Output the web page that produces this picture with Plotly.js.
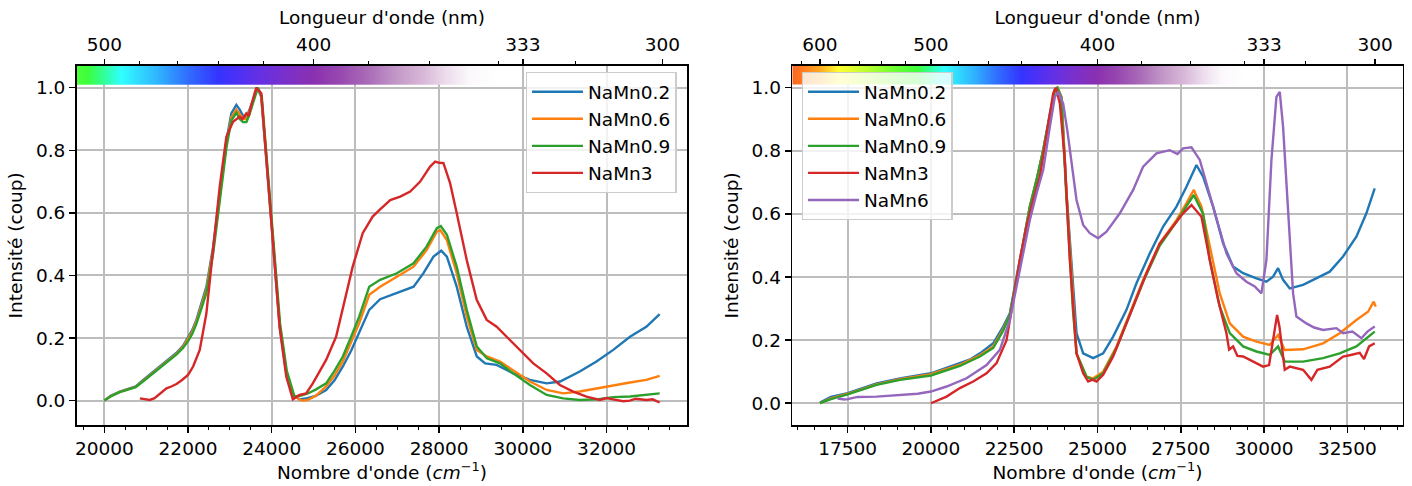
<!DOCTYPE html>
<html><head><meta charset="utf-8">
<script src="https://cdn.plot.ly/plotly-3.0.1.min.js"></script>
<style>html,body{margin:0;padding:0;background:#fff}#chart{width:1412px;height:486px}</style>
</head><body><div id="chart"></div>
<script>
// ---------------- DATA : left panel ----------------
const L02_wn = [20000,20150,20370,20610,20750,20930,21130,21330,21530,21720,21880,22000,22100,22200,22320,22440,22600,22760,22920,23035,23075,23155,23235,23315,23395,23470,23550,23655,23750,23870,24030,24190,24350,24505,24665,24850,25050,25300,25500,25700,25900,26090,26330,26590,26990,27390,27630,27865,28050,28185,28420,28660,28900,29100,29375,29770,30170,30570,30890,31360,31760,32160,32560,32950,33270];
const L02_I  = [0.0,0.015,0.029,0.039,0.045,0.066,0.088,0.109,0.13,0.152,0.175,0.20,0.225,0.258,0.31,0.364,0.492,0.662,0.833,0.918,0.926,0.945,0.93,0.91,0.905,0.93,0.958,1.0,0.97,0.77,0.50,0.236,0.087,0.018,0.004,0.008,0.015,0.034,0.065,0.109,0.16,0.215,0.29,0.324,0.343,0.364,0.408,0.46,0.479,0.46,0.364,0.236,0.141,0.119,0.114,0.087,0.066,0.055,0.061,0.093,0.125,0.162,0.204,0.236,0.276];

const L06_wn = [20000,20150,20370,20610,20750,20930,21130,21330,21530,21720,21880,22000,22100,22200,22320,22440,22600,22760,22920,23035,23075,23155,23235,23315,23395,23470,23550,23655,23750,23870,24030,24190,24350,24505,24665,24750,24850,25050,25300,25500,25700,25900,26090,26330,26590,26990,27390,27700,27945,28025,28185,28420,28660,28900,29140,29455,29770,30170,30570,30965,31360,31760,32160,32560,32950,33270];
const L06_I  = [0.0,0.014,0.028,0.038,0.044,0.064,0.086,0.106,0.127,0.149,0.172,0.196,0.22,0.252,0.302,0.355,0.482,0.652,0.822,0.905,0.915,0.93,0.915,0.9,0.9,0.925,0.955,1.0,0.975,0.78,0.51,0.245,0.092,0.02,0.003,0.0,0.002,0.015,0.045,0.08,0.125,0.185,0.247,0.338,0.364,0.396,0.428,0.481,0.54,0.545,0.513,0.407,0.268,0.162,0.141,0.125,0.098,0.061,0.034,0.023,0.029,0.039,0.047,0.058,0.066,0.079];

const L09_wn = [20000,20150,20370,20610,20750,20930,21130,21330,21530,21720,21880,22000,22100,22200,22320,22440,22600,22760,22920,23035,23075,23155,23235,23315,23395,23470,23550,23670,23760,23880,24040,24200,24360,24545,24700,24850,25050,25300,25500,25700,25900,26090,26330,26590,26990,27390,27700,27945,28040,28185,28420,28660,28900,29140,29455,29770,30170,30570,30965,31360,31760,32160,32560,32950,33270];
const L09_I  = [0.0,0.013,0.027,0.037,0.043,0.062,0.084,0.104,0.125,0.147,0.168,0.19,0.213,0.245,0.295,0.345,0.47,0.64,0.81,0.895,0.905,0.92,0.9,0.89,0.89,0.915,0.95,1.0,0.975,0.78,0.51,0.245,0.095,0.013,0.016,0.022,0.035,0.055,0.095,0.141,0.205,0.268,0.364,0.386,0.407,0.439,0.492,0.551,0.558,0.53,0.428,0.29,0.173,0.135,0.119,0.087,0.05,0.018,0.007,0.002,0.004,0.011,0.013,0.018,0.023];

const L3_wn = [20850,20950,21088,21200,21300,21486,21600,21724,21850,22000,22122,22280,22439,22598,22757,22916,23075,23234,23300,23393,23450,23512,23631,23750,23870,24029,24188,24347,24505,24664,24823,24982,25140,25300,25538,25776,25935,26174,26412,26571,26831,27070,27200,27308,27547,27785,27905,28000,28103,28262,28421,28660,28898,29137,29375,29614,29932,30250,30568,30886,31204,31522,31840,32000,32158,32400,32555,32700,32953,33100,33271];
const L3_I  = [0.007,0.004,0.002,0.008,0.018,0.039,0.045,0.053,0.065,0.082,0.109,0.162,0.279,0.471,0.684,0.843,0.891,0.907,0.9,0.918,0.91,0.945,1.0,0.982,0.77,0.50,0.236,0.077,0.004,0.018,0.023,0.055,0.09,0.13,0.204,0.343,0.428,0.535,0.588,0.609,0.641,0.652,0.66,0.668,0.70,0.748,0.764,0.76,0.759,0.695,0.599,0.449,0.322,0.258,0.236,0.204,0.162,0.119,0.087,0.05,0.029,0.013,0.002,0.008,0.004,-0.002,0.0,0.006,0.002,0.004,-0.006];

// ---------------- DATA : right panel ----------------
const R02_wn = [16670,16800,17000,17500,18000,18370,19070,19500,20000,20400,20870,21200,21470,21870,22170,22370,22570,22770,22970,23170,23370,23570,23720,23800,23920,24070,24270,24370,24570,24870,25170,25470,25870,26170,26570,26970,27370,27670,27970,28170,28470,28770,29070,29370,29770,30070,30270,30420,30570,30770,31170,31570,31970,32370,32770,33070,33320];
const R02_I  = [0.002,0.01,0.02,0.032,0.05,0.063,0.079,0.087,0.095,0.11,0.127,0.14,0.158,0.19,0.243,0.285,0.40,0.507,0.623,0.707,0.802,0.918,0.993,1.0,0.97,0.665,0.348,0.222,0.158,0.143,0.158,0.211,0.296,0.38,0.475,0.56,0.623,0.686,0.755,0.718,0.623,0.507,0.433,0.412,0.396,0.385,0.401,0.428,0.391,0.364,0.375,0.396,0.417,0.465,0.528,0.602,0.681];

const R06_wn = [16670,17000,17500,18370,19070,20000,20870,21470,21870,22170,22370,22570,22770,22970,23170,23370,23570,23720,23800,23920,24070,24270,24370,24670,24870,25170,25570,25970,26370,26870,27370,27670,27890,28120,28370,28670,28970,29370,29770,30170,30420,30620,31170,31770,32270,32770,33120,33290,33350];
const R06_I  = [0.0,0.015,0.03,0.06,0.076,0.092,0.122,0.152,0.18,0.235,0.28,0.40,0.507,0.623,0.707,0.802,0.918,0.993,1.0,0.97,0.665,0.30,0.158,0.084,0.079,0.1,0.18,0.285,0.391,0.507,0.58,0.634,0.676,0.623,0.497,0.348,0.253,0.211,0.195,0.185,0.216,0.169,0.171,0.19,0.222,0.264,0.29,0.322,0.306];

const R09_wn = [16670,17000,17500,18370,19070,20000,20870,21470,21870,22170,22370,22570,22770,22970,23170,23370,23570,23720,23790,23910,24060,24260,24370,24670,24870,25170,25570,25970,26370,26870,27370,27670,27890,28170,28370,28670,28970,29370,29770,30170,30420,30620,31170,31770,32270,32770,33320];
const R09_I  = [0.0,0.013,0.028,0.058,0.074,0.088,0.118,0.148,0.175,0.23,0.28,0.40,0.507,0.623,0.707,0.802,0.918,0.993,1.0,0.97,0.665,0.30,0.158,0.084,0.074,0.095,0.175,0.28,0.385,0.5,0.575,0.625,0.66,0.6,0.454,0.306,0.222,0.18,0.164,0.153,0.18,0.132,0.132,0.143,0.158,0.18,0.227];

const R3_wn = [20000,20200,20470,20870,21270,21670,21970,22270,22470,22670,22870,23070,23270,23470,23670,23750,23870,24020,24170,24370,24570,24720,24850,24970,25170,25470,25670,26070,26470,26870,27270,27570,27820,28120,28370,28620,28870,28950,29070,29200,29370,29670,29970,30150,30320,30390,30460,30620,30770,31170,31420,31600,31970,32370,32600,32870,33000,33150,33320];
const R3_I  = [0.0,0.01,0.021,0.048,0.069,0.095,0.127,0.2,0.327,0.454,0.56,0.644,0.718,0.845,0.982,1.0,0.95,0.77,0.454,0.158,0.095,0.069,0.075,0.069,0.09,0.148,0.2,0.306,0.412,0.507,0.56,0.602,0.628,0.591,0.454,0.327,0.222,0.17,0.18,0.15,0.148,0.132,0.116,0.121,0.243,0.28,0.243,0.106,0.116,0.106,0.074,0.106,0.116,0.148,0.153,0.16,0.14,0.18,0.19];

const R6_wn = [17200,17400,17500,17800,18370,18800,19170,19600,20000,20470,21070,21670,22070,22370,22570,22770,22970,23170,23370,23570,23720,23820,23970,24100,24270,24370,24570,24770,25020,25270,25670,26070,26370,26770,27170,27400,27570,27820,28070,28270,28570,28870,29170,29470,29720,29920,30070,30220,30370,30470,30570,30720,30870,30970,31270,31500,31770,32170,32370,32650,32920,33100,33320];
const R6_I  = [0.015,0.012,0.013,0.02,0.021,0.024,0.026,0.03,0.037,0.053,0.079,0.121,0.169,0.264,0.37,0.475,0.581,0.665,0.739,0.876,0.971,0.987,0.95,0.86,0.72,0.644,0.565,0.539,0.523,0.544,0.602,0.676,0.75,0.792,0.802,0.79,0.808,0.811,0.771,0.697,0.581,0.475,0.412,0.385,0.37,0.348,0.454,0.77,0.971,0.987,0.876,0.612,0.348,0.275,0.253,0.24,0.232,0.238,0.222,0.227,0.206,0.227,0.243];

// ---------------- axis labels / ticks ----------------
const xTicksLeft  = [20000,22000,24000,26000,28000,30000,32000];
const xTicksRight = [17500,20000,22500,25000,27500,30000,32500];
const yTicks = [0.0,0.2,0.4,0.6,0.8,1.0];
const topMajorWn = [16666.67,20000,25000,30000,33333.33];
const topMajorLabels = ['600','500','400','333','300'];
const topMinorNm = [640,620,580,560,540,520,480,460,440,420,380,360,340,320];

const namesLeft  = ['NaMn0.2','NaMn0.6','NaMn0.9','NaMn3'];
const namesRight = ['NaMn0.2','NaMn0.6','NaMn0.9','NaMn3','NaMn6'];
const colors = ['#1f77b4','#ff7f0e','#2ca02c','#d62728','#9467bd'];

// visible-spectrum strip colours (wavelength nm -> colour)
const spectrumStops = [[340,'#ffffff'],[348,'#fbf8fb'],[355,'#ecdcec'],[362,'#d8b8d8'],[370,'#c49ac8'],[380,'#aa6cb8'],[390,'#9848b0'],[400,'#8a30b0'],[410,'#7c30c8'],[420,'#6830e0'],[430,'#5030f4'],[440,'#3434ff'],[455,'#3070ff'],[470,'#30b4ff'],[490,'#30ffff'],[500,'#30ff9c'],[510,'#3cff3c'],[530,'#72ff30'],[550,'#b0ff30'],[570,'#e8ff30'],[580,'#ffff30'],[590,'#ffd428'],[600,'#ffa820'],[620,'#ff7a20'],[640,'#ff5520']];

// ---------------- build ----------------
const xRangeL = [19340, 33930], xRangeR = [15840, 34160];
const yRangeL = [-0.078, 1.0703], yRangeR = [-0.069, 1.0697];
const stripY = [1.0086, 1.0703];
const nmMin = 340, nmMax = 640;
const colorscale = spectrumStops.map(s => [(s[0]-nmMin)/(nmMax-nmMin), s[1]]);

function strip(x0, x1, xa) {
  const edges = [], z = [];
  for (let w = x0; w <= x1; w += 20) edges.push(w);
  for (let i = 0; i < edges.length-1; i++) z.push(1e7/((edges[i]+edges[i+1])/2));
  return {type:'heatmap', x: edges, y: stripY, z: [z], colorscale, zmin: nmMin, zmax: nmMax,
    showscale:false, hoverinfo:'skip', xaxis: xa, yaxis: xa==='x3' ? 'y' : 'y2', showlegend:false};
}

const FS = 18.5;
const FONT = {family:'DejaVu Sans, sans-serif', size:FS, color:'#000'};
const traces = [];
const leftSets = [[L02_wn,L02_I],[L06_wn,L06_I],[L09_wn,L09_I],[L3_wn,L3_I]];
leftSets.forEach((s,i) => traces.push({type:'scatter', mode:'lines', x:s[0], y:s[1], name:namesLeft[i],
  line:{color:colors[i], width:2.4}, xaxis:'x', yaxis:'y', legend:'legend', legendgroup:'L'+i}));
const rightSets = [[R02_wn,R02_I],[R06_wn,R06_I],[R09_wn,R09_I],[R3_wn,R3_I],[R6_wn,R6_I]];
rightSets.forEach((s,i) => traces.push({type:'scatter', mode:'lines', x:s[0], y:s[1], name:namesRight[i],
  line:{color:colors[i], width:2.4}, xaxis:'x2', yaxis:'y2', legend:'legend2', legendgroup:'R'+i}));
traces.push(strip(xRangeL[0], 29600, 'x3'));
traces.push(strip(xRangeR[0], 29600, 'x4'));

const topMinorWn = topMinorNm.map(n => 1e7/n);
const domY = [0.1255, 0.8648];
const grid = '#bdbdbd';
function bottomAxis(dom, rng, ticks, yref) {
  return {domain:dom, range:rng, anchor:yref, tickmode:'linear', tick0:ticks[0], dtick:ticks[1]-ticks[0],
    tickformat:'d', ticks:'outside', ticklen:6, tickwidth:1.5, tickcolor:'#000',
    showline:true, mirror:true, linecolor:'#000', linewidth:1.6, showgrid:true, gridcolor:grid, gridwidth:2,
    zeroline:false, minor:{dtick:500, ticks:'outside', ticklen:3.5, tickwidth:1, tickcolor:'#000', showgrid:false},
    title:{text:"Nombre d'onde (<i>cm</i><sup>−1</sup>)", font:FONT, standoff:5}, tickfont:FONT};
}
function topAxis(over, rng, yref) {
  return {overlaying:over, side:'top', anchor:yref, range:rng, tickmode:'array', tickvals:topMajorWn, ticktext:topMajorLabels,
    ticks:'outside', ticklen:6, tickwidth:1.5, tickcolor:'#000', showline:false, showgrid:false, zeroline:false,
    minor:{tickmode:'array', tickvals:topMinorWn, ticks:'outside', ticklen:3.5, tickwidth:1, tickcolor:'#000', showgrid:false},
    title:{text:"Longueur d'onde (nm)", font:FONT, standoff:4}, tickfont:FONT};
}
function leftAxis(rng, xref) {
  return {domain:domY, range:rng, anchor:xref, tickmode:'array', tickvals:yTicks, tickformat:'.1f',
    ticks:'outside', ticklen:6, tickwidth:1.5, tickcolor:'#000', showline:true, mirror:true, linecolor:'#000', linewidth:1.6,
    showgrid:true, gridcolor:grid, gridwidth:2, zeroline:false,
    title:{text:'Intensité (coup)', font:FONT, standoff:8}, tickfont:FONT};
}
const legendBase = {xanchor:'left', yanchor:'top', bgcolor:'rgba(255,255,255,0.8)', bordercolor:'#cccccc', borderwidth:1.3,
  font:FONT, itemwidth:51, traceorder:'grouped', tracegroupgap:0};

const layout = {
  width:1412, height:486, margin:{l:0,r:0,t:0,b:0}, paper_bgcolor:'#fff', plot_bgcolor:'#fff', font:FONT,
  showlegend:true,
  xaxis: bottomAxis([0.05432,0.48676], xRangeL, xTicksLeft, 'y'),
  xaxis2: bottomAxis([0.56112,0.99341], xRangeR, xTicksRight, 'y2'),
  xaxis3: topAxis('x', xRangeL, 'y'),
  xaxis4: topAxis('x2', xRangeR, 'y2'),
  yaxis: leftAxis(yRangeL, 'x'),
  yaxis2: leftAxis(yRangeR, 'x2'),
  legend: Object.assign({x:0.3723, y:0.8520}, legendBase),
  legend2: Object.assign({x:0.5678, y:0.8520}, legendBase)
};
Plotly.newPlot('chart', traces, layout, {displayModeBar:false, staticPlot:true});
</script></body></html>
